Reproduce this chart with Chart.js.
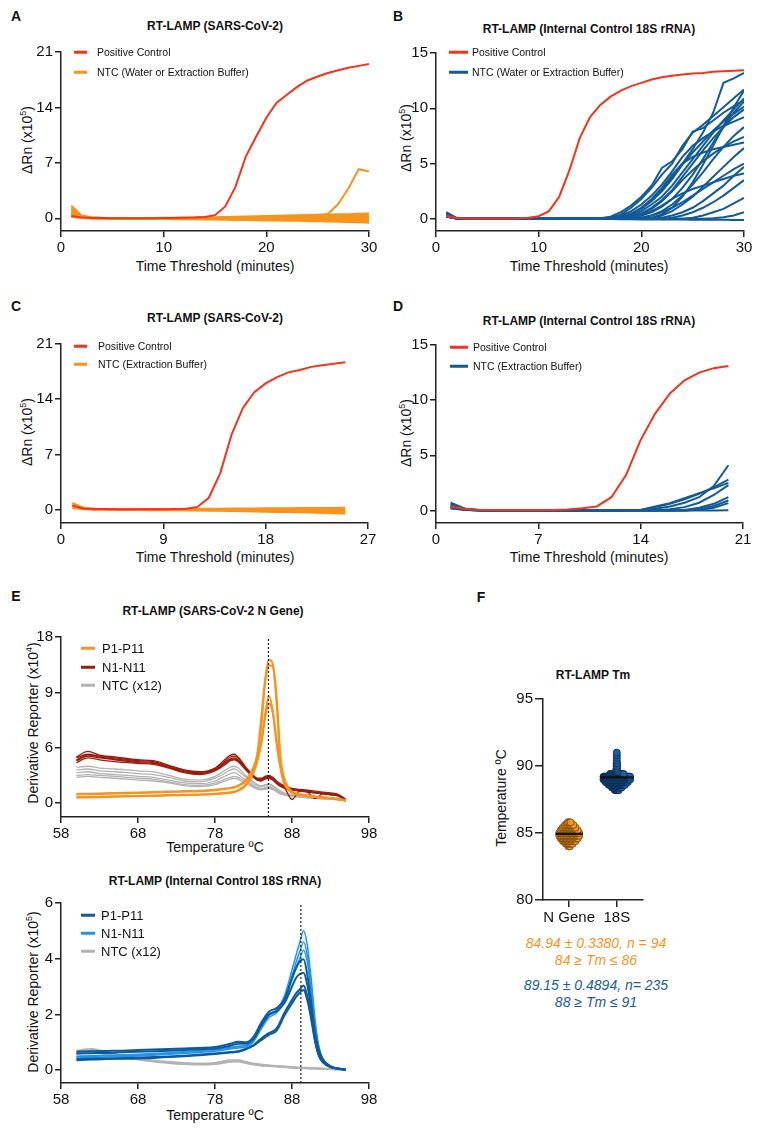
<!DOCTYPE html>
<html>
<head>
<meta charset="utf-8">
<script src="https://cdn.jsdelivr.net/npm/chart.js@4.4.1/dist/chart.umd.min.js"></script>
<style>
  body { margin: 0; background: #fff; width: 762px; height: 1133px; position: relative; overflow: hidden;
         font-family: "Liberation Sans", Arial, sans-serif; color: #111; }
  canvas { position: absolute; }
  .t { position: absolute; white-space: nowrap; transform: translate(-50%, -50%); line-height: 1; }
  .title { font-weight: bold; font-size: 12px; }
  .letter { font-weight: bold; font-size: 14px; }
  .ax { font-size: 14px; }
  .ylab { transform: translate(-50%, -50%) rotate(-90deg); }
  .leg { position: absolute; white-space: nowrap; transform: translateY(-50%); line-height: 1; }
  .dash { position: absolute; height: 2.5px; transform: translateY(-50%); }
  sup { font-size: 9px; vertical-align: 6px; line-height: 0; }
  .stat { font-style: italic; font-size: 14px; }
</style>
</head>
<body>
<div class="t letter" style="left:16px;top:16px">A</div>
<div class="t letter" style="left:398px;top:16px">B</div>
<div class="t letter" style="left:16px;top:306px">C</div>
<div class="t letter" style="left:398px;top:306px">D</div>
<div class="t letter" style="left:16px;top:596px">E</div>
<div class="t letter" style="left:481px;top:597px">F</div>

<div class="t title" style="left:215px;top:26px">RT-LAMP (SARS-CoV-2)</div>
<div class="t title" style="left:589px;top:29px">RT-LAMP (Internal Control 18S rRNA)</div>
<div class="t title" style="left:215px;top:318px">RT-LAMP (SARS-CoV-2)</div>
<div class="t title" style="left:589px;top:321px">RT-LAMP (Internal Control 18S rRNA)</div>
<div class="t title" style="left:213px;top:611px">RT-LAMP (SARS-CoV-2 N Gene)</div>
<div class="t title" style="left:215px;top:881px">RT-LAMP (Internal Control 18S rRNA)</div>
<div class="t title" style="left:593px;top:675px">RT-LAMP Tm</div>

<div class="t ax ylab" style="left:27px;top:140px">ΔRn (x10<sup>5</sup>)</div>
<div class="t ax ylab" style="left:406px;top:138px">ΔRn (x10<sup>5</sup>)</div>
<div class="t ax ylab" style="left:27px;top:432px">ΔRn (x10<sup>5</sup>)</div>
<div class="t ax ylab" style="left:406px;top:433px">ΔRn (x10<sup>5</sup>)</div>
<div class="t ax ylab" style="left:33px;top:723px">Derivative Reporter (x10<sup>4</sup>)</div>
<div class="t ax ylab" style="left:33px;top:992px">Derivative Reporter (x10<sup>5</sup>)</div>
<div class="t ax ylab" style="left:501px;top:798px">Temperature ºC</div>

<div class="t ax" style="left:215px;top:266px">Time Threshold (minutes)</div>
<div class="t ax" style="left:589px;top:266px">Time Threshold (minutes)</div>
<div class="t ax" style="left:215px;top:557px">Time Threshold (minutes)</div>
<div class="t ax" style="left:589px;top:557px">Time Threshold (minutes)</div>
<div class="t ax" style="left:215px;top:847px">Temperature ºC</div>
<div class="t ax" style="left:215px;top:1115px">Temperature ºC</div>

<div class="t stat" style="left:596px;top:943px;color:#F7941D">84.94 ± 0.3380, n = 94</div>
<div class="t stat" style="left:596px;top:960px;color:#F7941D">84 ≥ Tm ≤ 86</div>
<div class="t stat" style="left:596px;top:985px;color:#1A5C9E">89.15 ± 0.4894, n= 235</div>
<div class="t stat" style="left:596px;top:1002px;color:#1A5C9E">88 ≥ Tm ≤ 91</div>

<script>
const RED = "#F5331B";
const ORANGE = "#F7941D";
const BLUE = "#135B97";
const DARKRED = "#9C1C0C";
const GREY = "#B3B3B3";
const DARKBLUE = "#0D5A9C";
const LIGHTBLUE = "#1E96EE";

// ---- A: RT-LAMP SARS-CoV-2 (water or extraction buffer) ----
const timeA = [1,2,3,4,5,6,7,8,9,10,11,12,13,14,15,16,17,18,19,20,21,22,23,24,25,26,27,28,29,30];
const xTicksA = [0, 10, 20, 30];
const yTicksA = [0, 7, 14, 21];
const posA = [0.3,0.12,0.05,0.03,0.02,0.02,0.02,0.02,0.02,0.03,0.04,0.06,0.1,0.18,0.4,1.5,4.0,7.8,10.3,12.7,14.6,15.6,16.6,17.4,17.9,18.35,18.7,19.0,19.25,19.5];
const ntcA = [
  [1.6,0.35,0.15,0.08,0.05,0.04,0.04,0.04,0.05,0.06,0.07,0.09,0.11,0.13,0.15,0.18,0.2,0.23,0.26,0.29,0.32,0.35,0.38,0.41,0.44,0.47,0.5,0.53,0.57,0.62],
  [1.2,0.25,0.1,0.05,0.03,0.02,0.02,0.02,0.03,0.03,0.04,0.05,0.06,0.07,0.08,0.09,0.1,0.12,0.14,0.16,0.18,0.2,0.22,0.24,0.26,0.28,0.3,0.32,0.34,0.36],
  [0.8,0.18,0.06,0.02,0.01,0,0,0,0,0,0,0,0,0,0,0,0,0.01,0.02,0.03,0.04,0.05,0.06,0.07,0.08,0.09,0.1,0.11,0.12,0.13],
  [0.5,0.1,0.02,0,-0.01,-0.02,-0.02,-0.02,-0.03,-0.03,-0.04,-0.05,-0.06,-0.07,-0.08,-0.09,-0.1,-0.11,-0.12,-0.13,-0.14,-0.15,-0.16,-0.17,-0.18,-0.19,-0.2,-0.21,-0.22,-0.23],
  [0.2,0.05,-0.02,-0.04,-0.05,-0.06,-0.07,-0.08,-0.09,-0.1,-0.11,-0.12,-0.13,-0.14,-0.16,-0.18,-0.2,-0.22,-0.24,-0.26,-0.28,-0.3,-0.32,-0.34,-0.37,-0.4,-0.43,-0.46,-0.5,-0.55],
  [0.6,0.15,0.04,0.01,0,0,0,0,0,0,0.01,0.02,0.03,0.04,0.05,0.07,0.09,0.11,0.13,0.15,0.18,0.21,0.25,0.3,0.4,0.55,1.8,3.8,6.2,5.9]
];

// ---- B: RT-LAMP 18S rRNA (water or extraction buffer) ----
const timeB = timeA;
const xTicksB = [0, 10, 20, 30];
const yTicksB = [0, 5, 10, 15];
const posB = [0.25,0.08,0.03,0.02,0.02,0.02,0.03,0.05,0.1,0.24,0.7,2.0,4.4,7.3,9.2,10.3,11.05,11.6,12.0,12.3,12.6,12.8,12.95,13.05,13.15,13.2,13.3,13.35,13.4,13.45];
const ntcB = [
  [0.6,0.08,0.02,0,0,0,0,0,0,0,0,0,0,0,0,0,0.05,0.2,0.5,1.0,1.7,2.6,3.8,5.0,6.3,7.8,9.6,12.3,12.7,13.2],
  [0.4,0.06,0.01,0,0,0,0,0,0,0,0,0,0,0,0,0,0.1,0.4,1.0,1.8,2.8,4.0,5.0,6.6,7.8,8.5,9.3,10.1,10.9,11.7],
  [0.3,0.05,0.01,0,0,0,0,0,0,0,0,0,0,0,0,0,0,0.1,0.3,0.7,1.3,2.0,3.0,4.2,5.4,6.6,7.8,8.9,9.9,10.9],
  [0.5,0.06,0.01,0,0,0,0,0,0,0,0,0,0,0,0,0.05,0.2,0.6,1.2,2.0,3.0,4.6,5.2,6.3,7.9,8.2,8.9,9.6,10.2,10.75],
  [0.2,0.04,0,0,0,0,0,0,0,0,0,0,0,0,0,0,0,0,0.1,0.3,0.6,1.1,1.8,2.8,4.0,5.4,6.9,8.3,9.6,10.6],
  [0.3,0.05,0.01,0,0,0,0,0,0,0,0,0,0,0,0,0,0,0.1,0.4,0.9,1.6,2.5,3.6,4.9,6.0,7.0,8.0,8.8,9.5,10.15],
  [0.4,0.05,0.01,0,0,0,0,0,0,0,0,0,0,0,0,0,0.1,0.3,0.7,1.3,2.1,3.1,4.3,5.6,6.6,7.3,7.9,8.4,8.8,9.2],
  [0.2,0.04,0,0,0,0,0,0,0,0,0,0,0,0,0,0,0,0,0,0.1,0.3,0.7,1.3,2.1,3.1,4.2,5.4,6.5,7.5,8.3],
  [0.3,0.05,0,0,0,0,0,0,0,0,0,0,0,0,0,0,0,0,0.1,0.4,0.9,1.6,2.5,3.5,4.4,5.2,5.9,6.5,7.0,7.4],
  [0.5,0.06,0.01,0,0,0,0,0,0,0,0,0,0,0,0,0,0,0.1,0.4,1.0,1.8,2.8,4.0,5.0,5.6,6.0,6.3,6.5,6.7,6.9],
  [0.2,0.04,0,0,0,0,0,0,0,0,0,0,0,0,0,0,0,0,0,0,0.1,0.3,0.7,1.3,2.0,2.9,3.8,4.7,5.6,6.4],
  [0.3,0.05,0,0,0,0,0,0,0,0,0,0,0,0,0,0,0,0,0,0.1,0.3,0.6,1.0,1.5,2.1,2.7,3.3,3.9,4.5,5.0],
  [0.2,0.04,0,0,0,0,0,0,0,0,0,0,0,0,0,0,0,0,0,0,0,0.1,0.3,0.6,1.0,1.6,2.3,3.0,3.9,4.7],
  [0.4,0.05,0,0,0,0,0,0,0,0,0,0,0,0,0,0,0,0,0.1,0.3,0.7,1.2,1.8,2.3,2.7,3.0,3.3,3.6,3.9,4.1],
  [0.2,0.04,0,0,0,0,0,0,0,0,0,0,0,0,0,0,0,0,0,0,0,0,0.1,0.3,0.6,1.0,1.5,2.1,2.8,3.5],
  [0.3,0.04,0,0,0,0,0,0,0,0,0,0,0,0,0,0,0,0,0,0,0,0,0,0,0.1,0.3,0.6,0.9,1.4,1.9],
  [0.2,0.03,0,0,0,0,0,0,0,0,0,0,0,0,0,0,0,0,0,0,0,0,0,0,0,0,0.05,0.15,0.3,0.6],
  [0.3,0.03,0,0,0,0,0,0,0,0,0,0,0,0,0,0,-0.02,-0.03,-0.04,-0.05,-0.05,-0.06,-0.07,-0.07,-0.08,-0.08,-0.09,-0.09,-0.1,-0.1],
  [0.4,0.05,0.01,0,0,0,0,0,0,0,0,0,0,0,0,0,0,0,0,0,0.1,0.4,1.0,2.0,3.3,4.9,6.6,8.4,10.1,11.6],
  [0.3,0.05,0,0,0,0,0,0,0,0,0,0,0,0,0,0,0,0.05,0.2,0.5,1.0,1.7,2.6,3.8,5.0,6.2,7.3,8.3,9.2,9.9]
];

// ---- C: RT-LAMP SARS-CoV-2 (extraction buffer) ----
const timeC = [1,2,3,4,5,6,7,8,9,10,11,12,13,14,15,16,17,18,19,20,21,22,23,24,25];
const xTicksC = [0, 9, 18, 27];
const yTicksC = [0, 7, 14, 21];
const posC = [0.5,0.13,0.08,0.06,0.05,0.05,0.05,0.05,0.05,0.06,0.1,0.34,1.5,4.6,9.5,12.9,14.9,16.0,16.8,17.4,17.7,18.1,18.3,18.5,18.7];
const ntcC = [
  [0.85,0.2,0.1,0.08,0.07,0.07,0.07,0.07,0.07,0.08,0.09,0.1,0.11,0.12,0.13,0.14,0.15,0.16,0.17,0.18,0.19,0.2,0.2,0.21,0.22],
  [0.6,0.15,0.05,0.03,0.02,0.02,0.02,0.02,0.02,0.02,0.01,0,0,-0.01,-0.02,-0.03,-0.04,-0.05,-0.06,-0.07,-0.08,-0.09,-0.1,-0.11,-0.12],
  [0.4,0.1,0.02,0,-0.01,-0.01,-0.02,-0.02,-0.03,-0.03,-0.04,-0.05,-0.06,-0.07,-0.08,-0.09,-0.1,-0.12,-0.14,-0.16,-0.18,-0.2,-0.22,-0.25,-0.28],
  [0.2,0.05,-0.02,-0.03,-0.04,-0.05,-0.06,-0.07,-0.08,-0.09,-0.1,-0.12,-0.14,-0.16,-0.18,-0.2,-0.23,-0.26,-0.29,-0.32,-0.35,-0.38,-0.42,-0.46,-0.5]
];

// ---- D: RT-LAMP 18S rRNA (extraction buffer) ----
const timeD = [1,2,3,4,5,6,7,8,9,10,11,12,13,14,15,16,17,18,19,20];
const xTicksD = [0, 7, 14, 21];
const yTicksD = [0, 5, 10, 15];
const posD = [0.36,0.12,0.05,0.04,0.04,0.04,0.04,0.05,0.08,0.2,0.36,1.2,3.2,6.4,8.8,10.6,11.8,12.5,12.9,13.1];
const ntcD = [
  [0.7,0.15,0.03,0.01,0,0,0,0,0,0,0,0,0,0.05,0.15,0.35,0.7,1.2,2.2,4.1],
  [0.6,0.12,0.02,0,0,0,0,0,0,0,0,0,0,0.05,0.3,0.6,1.0,1.5,2.1,2.8],
  [0.5,0.1,0.02,0,0,0,0,0,0,0,0,0,0,0.05,0.36,0.66,1.1,1.57,2.0,2.5],
  [0.4,0.08,0.01,0,0,0,0,0,0,0,0,0,0,0,0,0.1,0.3,0.7,1.4,2.3],
  [0.3,0.06,0.01,0,0,0,0,0,0,0,0,0,0,0,0,0,0.05,0.25,0.6,1.2],
  [0.3,0.05,0,0,0,0,0,0,0,0,0,0,0,0,0,0,0,0.1,0.4,0.9],
  [0.2,0.05,0,0,0,0,0,0,0,0,0,0,0,0,0,0,0,0.05,0.25,0.66],
  [0.2,0.04,0,0,0,0,0,0,0,0,0,0,0,0,0,0,0,0,0,0.02]
];

// ---- E (top): melt curves, SARS-CoV-2 N gene ----
const tempE1 = [60,61.5,63,65,68,70,72,74,76,78,79,80,80.5,81,82,83,83.5,84,84.5,85,85.5,86,86.5,87,88,89,90,91,92,93,94,95];
const xTicksE = [58, 68, 78, 88, 98];
const yBreaksE1 = [0, 6, 9, 18];       // evenly spaced tick values of the broken axis
const tmLineE1 = 84.94;
const posE1 = [
  [1.0,1.02,1.05,1.1,1.15,1.2,1.25,1.3,1.35,1.45,1.55,1.65,1.75,1.9,2.5,3.9,5.4,7.6,11.0,14.3,13.6,8.4,4.6,2.5,1.2,0.95,0.8,0.7,0.62,0.55,0.45,0.3],
  [0.95,0.97,1.0,1.05,1.1,1.15,1.2,1.25,1.3,1.4,1.5,1.6,1.7,1.85,2.4,3.7,5.1,7.2,10.4,13.4,13.2,8.8,5.0,2.7,1.25,1.0,0.82,0.72,0.63,0.55,0.45,0.3],
  [0.6,0.62,0.65,0.7,0.75,0.78,0.82,0.86,0.9,0.98,1.05,1.12,1.2,1.35,1.9,3.3,4.6,6.3,7.8,8.8,8.0,6.2,3.8,2.1,1.1,0.9,0.78,0.68,0.6,0.52,0.42,0.28],
  [0.65,0.67,0.7,0.75,0.8,0.83,0.87,0.9,0.95,1.02,1.1,1.18,1.25,1.4,2.0,3.4,4.7,6.2,7.6,8.4,7.9,6.4,4.0,2.2,1.15,0.92,0.8,0.7,0.6,0.5,0.4,0.28]
];
const negE1 = [
  [5.0,5.6,5.2,5.0,4.7,4.6,4.1,3.6,3.4,3.8,4.5,5.2,5.3,5.0,3.9,3.0,2.7,2.7,2.9,3.0,2.8,2.4,2.1,1.9,1.6,1.5,1.4,1.3,1.2,1.1,0.95,0.4],
  [4.7,5.2,5.0,4.8,4.5,4.4,3.9,3.4,3.2,3.6,4.2,4.8,4.9,4.7,3.7,2.9,2.6,2.5,2.7,2.8,2.6,2.2,1.9,1.7,0.4,1.3,1.2,1.1,1.0,0.9,0.8,0.35],
  [4.4,4.9,4.7,4.5,4.3,4.2,3.8,3.3,3.1,3.5,4.0,4.6,4.7,4.5,3.6,2.8,2.5,2.4,2.6,2.7,2.5,2.1,1.8,1.6,1.4,1.3,1.2,0.5,1.0,0.9,0.8,0.3],
  [4.9,5.3,5.1,4.9,4.6,4.5,4.0,3.5,3.3,3.7,4.3,5.0,5.1,4.9,3.8,2.9,2.6,2.6,2.8,2.9,2.7,2.3,2.0,1.8,1.5,1.4,1.3,1.2,1.1,1.0,0.85,0.35],
  [4.6,5.1,4.9,4.7,4.4,4.3,3.9,3.5,3.3,3.6,4.1,4.7,4.8,4.6,3.7,2.8,2.5,2.5,2.7,2.8,2.6,2.2,1.9,1.7,1.45,1.35,1.25,1.15,1.05,0.95,0.8,0.3]
];
const ntcE1 = [
  [3.9,4.0,3.8,3.7,3.5,3.4,3.0,2.6,2.5,2.9,3.4,3.9,4.0,3.8,3.0,2.3,2.0,1.9,2.0,2.1,1.9,1.6,1.3,1.1,0.9,0.8,0.7,0.6,0.55,0.5,0.45,0.3],
  [3.6,3.7,3.5,3.4,3.2,3.1,2.8,2.4,2.3,2.7,3.1,3.6,3.7,3.5,2.8,2.1,1.9,1.8,1.9,2.0,1.8,1.5,1.2,1.0,0.85,0.75,0.65,0.58,0.52,0.47,0.42,0.28],
  [3.3,3.4,3.2,3.1,2.9,2.8,2.5,2.2,2.1,2.4,2.8,3.2,3.3,3.1,2.5,1.9,1.7,1.6,1.7,1.8,1.6,1.4,1.1,0.95,0.8,0.7,0.62,0.55,0.5,0.45,0.4,0.26],
  [3.0,3.1,3.0,2.9,2.7,2.6,2.3,2.0,1.9,2.2,2.5,2.8,2.9,2.8,2.3,1.8,1.6,1.5,1.6,1.7,1.5,1.3,1.05,0.9,0.78,0.68,0.6,0.53,0.48,0.43,0.38,0.25],
  [2.8,2.9,2.8,2.7,2.5,2.4,2.2,1.9,1.8,2.0,2.3,2.6,2.7,2.6,2.1,1.7,1.5,1.45,1.5,1.6,1.45,1.25,1.0,0.88,0.75,0.66,0.58,0.52,0.46,0.42,0.37,0.24]
];

// ---- E (bottom): melt curves, 18S rRNA ----
const tempE2 = [60,62,64,66,68,70,72,74,76,78,80,81,82,83,84,85,86,87,88,88.5,89,89.5,90,90.5,91,91.5,92,93,94,95];
const yTicksE2 = [0, 2, 4, 6];
const tmLineE2 = 89.15;
const posE2 = [
  [0.66,0.68,0.69,0.7,0.72,0.74,0.76,0.78,0.8,0.83,0.95,1.02,1.0,1.2,1.7,2.1,2.23,2.53,3.3,3.65,3.9,3.98,3.4,2.4,1.3,0.72,0.39,0.14,0.06,0.02],
  [0.6,0.61,0.62,0.64,0.66,0.68,0.7,0.72,0.75,0.78,0.88,0.95,0.95,1.12,1.6,2.0,2.12,2.4,3.0,3.3,3.45,3.5,3.05,2.2,1.2,0.66,0.36,0.13,0.05,0.02],
  [0.36,0.38,0.4,0.41,0.42,0.44,0.47,0.5,0.54,0.58,0.63,0.66,0.75,0.9,1.14,1.33,1.5,2.05,2.53,2.75,2.9,3.04,2.65,1.93,1.08,0.54,0.3,0.12,0.05,0.02],
  [0.4,0.41,0.42,0.43,0.45,0.47,0.49,0.52,0.56,0.6,0.65,0.68,0.76,0.88,1.08,1.27,1.42,1.95,2.4,2.62,2.78,2.88,2.5,1.82,1.02,0.5,0.28,0.11,0.05,0.02]
];
const negE2 = [
  [0.48,0.5,0.51,0.52,0.54,0.57,0.6,0.64,0.68,0.72,0.8,0.84,0.87,1.08,1.57,1.99,2.17,2.65,3.6,4.1,4.58,5.0,4.46,3.25,1.8,0.84,0.42,0.15,0.06,0.02],
  [0.5,0.52,0.53,0.55,0.57,0.6,0.63,0.66,0.7,0.74,0.82,0.86,0.89,1.1,1.55,1.95,2.12,2.55,3.4,3.85,4.25,4.6,4.1,3.0,1.65,0.78,0.4,0.14,0.06,0.02],
  [0.44,0.46,0.47,0.49,0.51,0.54,0.57,0.6,0.64,0.68,0.76,0.8,0.83,1.02,1.48,1.88,2.05,2.45,3.25,3.65,4.0,4.3,3.85,2.8,1.55,0.74,0.38,0.14,0.06,0.02]
];
const ntcE2 = [
  [0.66,0.72,0.6,0.48,0.4,0.33,0.28,0.24,0.22,0.24,0.33,0.33,0.28,0.22,0.18,0.16,0.14,0.12,0.1,0.09,0.08,0.08,0.07,0.07,0.06,0.06,0.05,0.04,0.03,0.02],
  [0.58,0.64,0.56,0.46,0.38,0.31,0.26,0.22,0.2,0.22,0.3,0.31,0.26,0.2,0.17,0.15,0.13,0.11,0.09,0.08,0.08,0.07,0.07,0.06,0.06,0.05,0.05,0.04,0.03,0.02],
  [0.7,0.76,0.64,0.52,0.42,0.35,0.3,0.26,0.24,0.26,0.36,0.36,0.3,0.24,0.2,0.17,0.15,0.13,0.11,0.1,0.09,0.09,0.08,0.07,0.07,0.06,0.05,0.04,0.03,0.02]
];

// ---- F: Tm distribution ----
const groupsF = ["N Gene", "18S"];
const yTicksF = [80, 85, 90, 95];
const tmN = [84.0,84.2,84.4,84.6,84.8,85.0,85.2,85.4,85.6,85.8];
const cntN = [2,6,10,13,15,15,13,10,7,3];
const meanN = 84.94;
const tm18 = [88.2,88.4,88.6,88.8,89.0,89.2,89.4,89.6,89.8,90.0,90.2,90.4,90.6,90.8,91.0];
const cnt18 = [8,18,30,40,52,48,25,4,2,2,2,1,1,1,1];
const mean18 = 89.15;

// legend helper
function legend(x0, x1, xt, ys, items, size) {
  items.forEach((it, i) => {
    const d = document.createElement("div");
    d.className = "dash";
    d.style.cssText = `left:${x0}px;top:${ys[i]}px;width:${x1 - x0}px;background:${it[1]}`;
    document.body.appendChild(d);
    const t = document.createElement("div");
    t.className = "leg";
    t.style.cssText = `left:${xt}px;top:${ys[i]}px;font-size:${size}px`;
    t.textContent = it[0];
    document.body.appendChild(t);
  });
}

function axis(ticks, tickLen, labels) {
  return {
    type: "linear",
    border: { display: true, color: "#222", width: 1.5 },
    grid: { display: true, drawOnChartArea: false, drawTicks: true, tickLength: tickLen, color: "#222", lineWidth: 1.5 },
    ticks: {
      color: "#111", font: { family: "Liberation Sans", size: 15 }, autoSkip: false, maxRotation: 0, padding: 2,
      callback: labels ? (v, i) => labels[i] : (v) => v
    },
    afterBuildTicks: (s) => { s.ticks = ticks.map((v) => ({ value: v })); }
  };
}

// box = chart area in page pixels: l, r (x min/max), t, b (y max/min)
function makeChart(box, type, datasets, x, y) {
  const padL = 4, yW = 44, padT = 12, padR = 20, xH = 34, padB = 4;
  const w = box.r - box.l + padL + yW + padR;
  const h = box.b - box.t + padT + xH + padB;
  const cv = document.createElement("canvas");
  cv.width = w; cv.height = h;
  cv.style.left = (box.l - padL - yW) + "px";
  cv.style.top = (box.t - padT) + "px";
  cv.style.width = w + "px"; cv.style.height = h + "px";
  document.body.appendChild(cv);
  x.afterFit = (s) => { s.height = xH; };
  y.afterFit = (s) => { s.width = yW; };
  return new Chart(cv.getContext("2d"), {
    type: type,
    data: { datasets: datasets },
    options: {
      responsive: false, animation: false, devicePixelRatio: 1, events: [],
      layout: { padding: { left: padL, top: padT, right: padR, bottom: padB } },
      plugins: { legend: { display: false }, tooltip: { enabled: false } },
      scales: { x: x, y: y }
    }
  });
}

const pts = (xs, ys, f) => ys.map((v, i) => ({ x: xs[i], y: f ? f(v) : v }));
const line = (xs, ys, color, width, extra) =>
  Object.assign({ data: pts(xs, ys), borderColor: color, backgroundColor: color, borderWidth: width,
    pointRadius: 0, tension: 0, fill: false }, extra || {});

// A
{
  const ds = [line(timeA, posA, RED, 2)];
  ntcA.forEach((s, i) => ds.push(line(timeA, s, ORANGE, 2, i === 0 ? { fill: 5 } : {})));
  const x = axis(xTicksA, 6); x.min = 0; x.max = 30;
  const y = axis(yTicksA, 6); y.min = -1.6; y.max = 21;
  makeChart({ l: 61, r: 369, t: 52, b: 231 }, "line", ds, x, y);
  legend(74, 87, 97, [52, 72], [["Positive Control", RED], ["NTC (Water or Extraction Buffer)", ORANGE]], 10.5);
}
// B
{
  const ds = [line(timeB, posB, RED, 2)];
  ntcB.forEach((s) => ds.push(line(timeB, s, BLUE, 2)));
  const x = axis(xTicksB, 6); x.min = 0; x.max = 30;
  const y = axis(yTicksB, 6); y.min = -1.1; y.max = 15;
  makeChart({ l: 436, r: 744, t: 53, b: 231 }, "line", ds, x, y);
  legend(449, 468, 472, [52, 72], [["Positive Control", RED], ["NTC (Water or Extraction Buffer)", BLUE]], 10.5);
}
// C
{
  const ds = [line(timeC, posC, RED, 2)];
  ntcC.forEach((s, i) => ds.push(line(timeC, s, ORANGE, 2, i === 0 ? { fill: 4 } : {})));
  const x = axis(xTicksC, 6); x.min = 0; x.max = 27;
  const y = axis(yTicksC, 6); y.min = -1.7; y.max = 21;
  makeChart({ l: 61, r: 368, t: 344, b: 523 }, "line", ds, x, y);
  legend(74, 87, 98, [346, 364], [["Positive Control", RED], ["NTC (Extraction Buffer)", ORANGE]], 10.5);
}
// D
{
  const ds = [line(timeD, posD, RED, 2)];
  ntcD.forEach((s) => ds.push(line(timeD, s, BLUE, 2)));
  const x = axis(xTicksD, 6); x.min = 0; x.max = 21;
  const y = axis(yTicksD, 6); y.min = -1.14; y.max = 15;
  makeChart({ l: 436, r: 743, t: 345, b: 523 }, "line", ds, x, y);
  legend(450, 468, 473, [347, 366], [["Positive Control", RED], ["NTC (Extraction Buffer)", BLUE]], 10.5);
}
// E top: broken axis 0-6-9-18 mapped onto equal steps
{
  const seg = (v) => {
    const b = yBreaksE1;
    if (v <= b[1]) return v / (b[1] - b[0]);
    if (v <= b[2]) return 1 + (v - b[1]) / (b[2] - b[1]);
    return 2 + (v - b[2]) / (b[3] - b[2]);
  };
  const curve = (ys, color, width) => ({ data: pts(tempE1, ys, seg), borderColor: color, borderWidth: width,
    pointRadius: 0, cubicInterpolationMode: "monotone", fill: false });
  const ds = [{ data: [{ x: tmLineE1, y: -0.25 }, { x: tmLineE1, y: 3 }], borderColor: "#222", borderWidth: 1.2,
    borderDash: [2, 2], pointRadius: 0, fill: false }];
  posE1.forEach((s) => ds.push(curve(s, ORANGE, 2)));
  negE1.forEach((s) => ds.push(curve(s, DARKRED, 1.3)));
  ntcE1.forEach((s) => ds.push(curve(s, GREY, 1.3)));
  const x = axis(xTicksE, 6); x.min = 58; x.max = 98;
  const y = axis([0, 1, 2, 3], 6, yBreaksE1.map(String)); y.min = -0.25; y.max = 3;
  makeChart({ l: 61, r: 369, t: 637, b: 817 }, "line", ds, x, y);
  legend(81, 95, 102, [648, 667, 685], [["P1-P11", ORANGE], ["N1-N11", DARKRED], ["NTC (x12)", GREY]], 13);
}
// E bottom
{
  const curve = (ys, color, width) => ({ data: pts(tempE2, ys), borderColor: color, borderWidth: width,
    pointRadius: 0, cubicInterpolationMode: "monotone", fill: false });
  const ds = [{ data: [{ x: tmLineE2, y: -0.46 }, { x: tmLineE2, y: 6 }], borderColor: "#222", borderWidth: 1.2,
    borderDash: [2, 2], pointRadius: 0, fill: false }];
  posE2.forEach((s) => ds.push(curve(s, DARKBLUE, 2)));
  negE2.forEach((s) => ds.push(curve(s, LIGHTBLUE, 1.5)));
  ntcE2.forEach((s) => ds.push(curve(s, GREY, 2)));
  const x = axis(xTicksE, 6); x.min = 58; x.max = 98;
  const y = axis(yTicksE2, 6); y.min = -0.46; y.max = 6;
  makeChart({ l: 61, r: 369, t: 903, b: 1083 }, "line", ds, x, y);
  legend(81, 95, 101, [915, 933, 951], [["P1-P11", DARKBLUE], ["N1-N11", LIGHTBLUE], ["NTC (x12)", GREY]], 13);
}
// F: swarm of Tm values
{
  const swarm = (center, tms, counts, step, cap) => {
    const out = [];
    tms.forEach((tm, i) => {
      const c = counts[i];
      const half = Math.min((c - 1) * step / 2, cap);
      for (let j = 0; j < c; j++) {
        out.push({ x: c > 1 ? center - half + (2 * half * j) / (c - 1) : center, y: tm });
      }
    });
    return out;
  };
  const ds = [
    { type: "line", data: [{ x: 0.715, y: meanN }, { x: 1.285, y: meanN }], borderColor: "#111", borderWidth: 2.2, pointRadius: 0 },
    { type: "line", data: [{ x: 1.65, y: mean18 }, { x: 2.35, y: mean18 }], borderColor: "#111", borderWidth: 2.2, pointRadius: 0 },
    { data: swarm(1, tmN, cntN, 0.03, 0.21), backgroundColor: ORANGE, borderColor: "#6A4310", borderWidth: 0.8, pointRadius: 3.5 },
    { data: swarm(2, tm18, cnt18, 0.012, 0.28), backgroundColor: "#1C5E9E", borderColor: "#0B2C52", borderWidth: 0.8, pointRadius: 3.5 }
  ];
  const x = axis([1, 2], 7, groupsF); x.min = 0.45; x.max = 2.55;
  const y = axis(yTicksF, 8); y.min = 80; y.max = 95;
  makeChart({ l: 543, r: 643, t: 699, b: 900 }, "scatter", ds, x, y);
}
</script>
</body>
</html>
